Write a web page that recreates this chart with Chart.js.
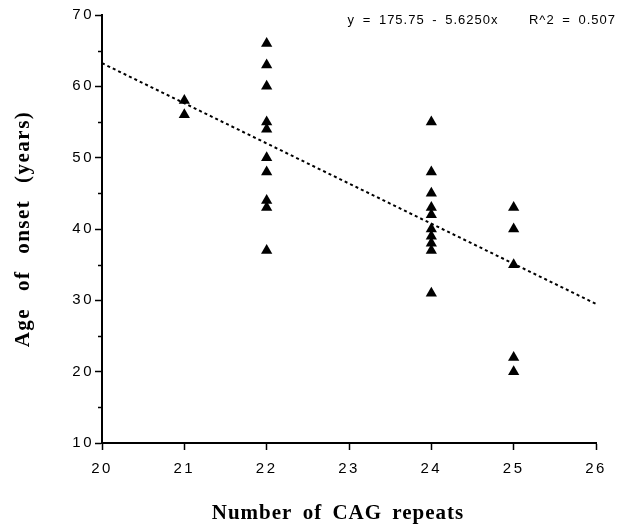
<!DOCTYPE html>
<html>
<head>
<meta charset="utf-8">
<script src="https://cdn.jsdelivr.net/npm/chart.js@4"></script>
<style>
  html, body { margin: 0; padding: 0; background: #fff; }
  #wrap { width: 623px; height: 531px; }
</style>
</head>
<body>
<div id="wrap"><canvas id="cag"></canvas></div>
<script>
// CAG repeat counts and age of onset
const cagValues = [21, 22, 24, 25];
const onset21 = [58, 56];
const onset22 = [66, 63, 60, 55, 54, 50, 48, 44, 43, 37];
const onset24 = [55, 48, 45, 43, 42, 40, 39, 38, 37, 31];
const onset25 = [43, 40, 35, 22, 20];
const onsetByCag = [onset21, onset22, onset24, onset25];

// regression line end points (x = 20 and x = 26)
const fitX = [20, 26];
const fitY = [63.25, 29.5];
const fitLabel = "y = 175.75 - 5.6250x    R^2 = 0.507";

const yTicks = [10, 20, 30, 40, 50, 60, 70];
const yMinorTicks = [15, 25, 35, 45, 55, 65];

const xTitle = "Number of CAG repeats";
const yTitle = "Age of onset (years)";

const points = [];
cagValues.forEach((c, i) => {
  onsetByCag[i].forEach(v => points.push({ x: c, y: v }));
});

const titleFont = "bold 21px 'Liberation Serif', 'Times New Roman', serif";

const extras = {
  id: "extras",
  beforeDraw(chart) {
    // the original tick numbers are spaced out
    chart.ctx.letterSpacing = "2.5px";
  },
  afterDraw(chart) {
    const ctx = chart.ctx;
    const y = chart.scales.y;
    const area = chart.chartArea;
    ctx.save();
    ctx.strokeStyle = "#000";
    ctx.lineWidth = 1.5;
    yMinorTicks.forEach(v => {
      const py = Math.round(y.getPixelForValue(v)) + 0.5;
      ctx.beginPath();
      ctx.moveTo(y.right - 4, py);
      ctx.lineTo(y.right, py);
      ctx.stroke();
    });
    ctx.fillStyle = "#000";

    // regression equation
    ctx.font = "13px 'Liberation Sans', Arial, sans-serif";
    ctx.letterSpacing = "1px";
    ctx.wordSpacing = "3px";
    ctx.textAlign = "right";
    ctx.textBaseline = "middle";
    ctx.fillText(fitLabel, 616, 20);

    // axis titles
    ctx.font = titleFont;
    ctx.textAlign = "center";
    ctx.letterSpacing = "1px";
    ctx.wordSpacing = "4px";
    ctx.fillText(xTitle, 338, 514);

    ctx.translate(24, (area.top + area.bottom) / 2);
    ctx.rotate(-Math.PI / 2);
    ctx.letterSpacing = "1.5px";
    ctx.wordSpacing = "10px";
    ctx.fillText(yTitle, 0, 0);
    ctx.restore();
  }
};

new Chart(document.getElementById("cag").getContext("2d"), {
  type: "scatter",
  data: {
    datasets: [
      {
        data: points,
        pointStyle: "triangle",
        pointRadius: 6.5,
        pointBackgroundColor: "#000",
        pointBorderColor: "#000",
        pointBorderWidth: 0,
        order: 0
      },
      {
        type: "line",
        data: fitX.map((x, i) => ({ x: x, y: fitY[i] })),
        borderColor: "#000",
        borderWidth: 2,
        borderDash: [3, 3],
        pointRadius: 0,
        fill: false,
        order: 1
      }
    ]
  },
  options: {
    responsive: true,
    maintainAspectRatio: false,
    animation: false,
    layout: { padding: { top: 15, right: 27, left: 0, bottom: 0 } },
    plugins: { legend: { display: false }, tooltip: { enabled: false } },
    scales: {
      x: {
        type: "linear",
        min: 20,
        max: 26,
        afterFit(s) { s.height = 88; },
        ticks: {
          stepSize: 1,
          padding: 10,
          color: "#000",
          font: { family: "'Liberation Sans', Arial, sans-serif", size: 15 }
        },
        grid: { drawOnChartArea: false, drawTicks: true, tickLength: 7, color: "#000", tickWidth: 1.5 },
        border: { display: true, color: "#000", width: 2 },
        title: { display: false, text: xTitle }
      },
      y: {
        min: 10,
        max: 70,
        afterFit(s) { s.width = 102; },
        afterBuildTicks(s) { s.ticks = yTicks.map(v => ({ value: v })); },
        ticks: {
          padding: 1,
          color: "#000",
          font: { family: "'Liberation Sans', Arial, sans-serif", size: 15 }
        },
        grid: { drawOnChartArea: false, drawTicks: true, tickLength: 7, color: "#000", tickWidth: 1.5 },
        border: { display: true, color: "#000", width: 2 },
        title: { display: false, text: yTitle }
      }
    }
  },
  plugins: [extras]
});
</script>
</body>
</html>
